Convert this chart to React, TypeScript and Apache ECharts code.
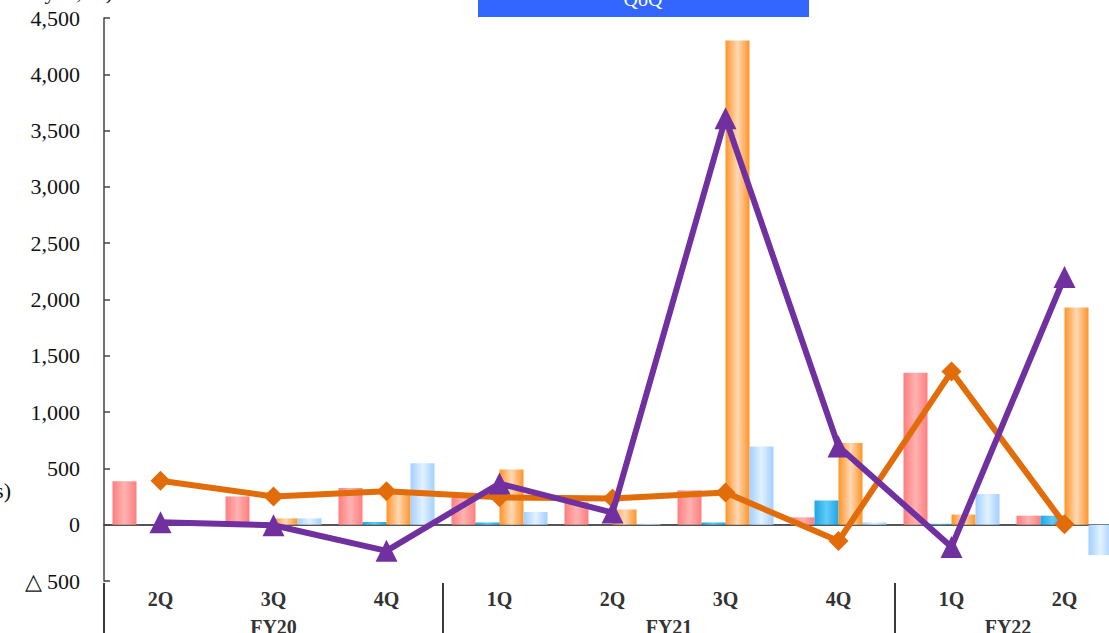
import React, { useEffect, useRef } from "react";
import * as echarts from "echarts";

// Quarters on the category axis, grouped by fiscal year
const quarters = ["2Q", "3Q", "4Q", "1Q", "2Q", "3Q", "4Q", "1Q", "2Q"];
const fiscalYears = ["FY20", "FY21", "FY22"];
const quartersPerYear = [3, 4, 2];

// Bar series
const redBars = [385, 251, 326, 251, 200, 305, 65, 1350, 80];
const cyanBars = [0, 0, 24, 20, 0, 20, 215, 8, 80];
const orangeBars = [0, 56, 285, 490, 135, 4300, 725, 90, 1930];
const paleBlueBars = [0, 56, 545, 113, 8, 695, 20, 272, -270];

// Line series
const orangeLine = [390, 251, 298, 243, 232, 285, -145, 1360, 5];
const purpleLine = [22, -5, -232, 365, 108, 3610, 695, -198, 2200];

// Value axis range
const yMin = -500;
const yMax = 4500;
const yStep = 500;

const SERIF = '"Times New Roman", "Liberation Serif", serif';

// The plot runs a little past the right edge of the visible frame
const VIEW_W = 1109;
const VIEW_H = 633;
const CHART_W = 1121;

const hGradient = (edge: string, mid: string) =>
  new echarts.graphic.LinearGradient(0, 0, 1, 0, [
    { offset: 0, color: edge },
    { offset: 0.5, color: mid },
    { offset: 1, color: edge },
  ]);

const formatY = (v: number) => {
  const s = Math.abs(v).toLocaleString("en-US");
  return v < 0 ? "\u25B3 " + s : s;
};

// Half-step positions for the fiscal-year row: labels at the middle of each
// year, separators at the year boundaries
const halfSteps: string[] = [];
const boundaryIdx: number[] = [];
(() => {
  const total = quartersPerYear.reduce((a, b) => a + b, 0) * 2 + 1;
  for (let i = 0; i < total; i++) halfSteps.push("");
  let start = 0;
  boundaryIdx.push(0);
  fiscalYears.forEach((fy, k) => {
    const span = quartersPerYear[k];
    halfSteps[start * 2 + span] = fy;
    start += span;
    boundaryIdx.push(start * 2);
  });
})();

export default function App() {
  const ref = useRef<HTMLDivElement>(null);

  useEffect(() => {
    if (!ref.current) return;
    const chart = echarts.init(ref.current, null, {
      renderer: "svg",
      width: CHART_W,
      height: VIEW_H,
    });

    const barBase = {
      type: "bar" as const,
      xAxisIndex: 0,
      yAxisIndex: 0,
      barWidth: 24,
      barGap: "0%",
    };

    chart.setOption({
      animation: false,
      grid: {
        left: 104,
        right: 0,
        top: 18,
        bottom: 52,
        containLabel: false,
        outerBoundsMode: "none",
      },
      xAxis: [
        {
          type: "category",
          data: quarters,
          position: "bottom",
          axisLine: { show: true, onZero: true, lineStyle: { color: "#555", width: 2 } },
          axisTick: { show: false },
          axisLabel: { show: false },
        },
        {
          type: "category",
          data: quarters,
          position: "bottom",
          axisLine: { show: false, onZero: false },
          axisTick: { show: false },
          axisLabel: {
            show: true,
            interval: 0,
            margin: 8,
            fontFamily: SERIF,
            fontSize: 20,
            fontWeight: "bold",
            color: "#333",
          },
        },
        {
          type: "category",
          data: halfSteps,
          boundaryGap: false,
          position: "bottom",
          offset: 2,
          axisLine: { show: false, onZero: false },
          axisTick: {
            show: true,
            length: 52,
            interval: (i: number) => boundaryIdx.includes(i),
            lineStyle: { color: "#3a3a3a", width: 2 },
          },
          axisLabel: {
            show: true,
            interval: 0,
            margin: 34,
            fontFamily: SERIF,
            fontSize: 20,
            fontWeight: "bold",
            color: "#333",
          },
        },
      ],
      yAxis: {
        type: "value",
        min: yMin,
        max: yMax,
        interval: yStep,
        axisLine: { show: true, onZero: false, lineStyle: { color: "#444", width: 1.5 } },
        axisTick: { show: true, inside: true, length: 6, lineStyle: { color: "#444", width: 1.5 } },
        splitLine: { show: false },
        axisLabel: {
          margin: 24,
          fontFamily: SERIF,
          fontSize: 22,
          color: "#111",
          formatter: formatY,
        },
      },
      series: [
        { ...barBase, data: redBars, itemStyle: { color: hGradient("#FF7E7E", "#FFB2B2") } },
        { ...barBase, data: cyanBars, itemStyle: { color: hGradient("#1EA6E8", "#5FCBF6") } },
        { ...barBase, data: orangeBars, itemStyle: { color: hGradient("#FF9326", "#FFD9B5") } },
        { ...barBase, data: paleBlueBars, itemStyle: { color: hGradient("#A2D0FF", "#E2F1FF") } },
        {
          type: "line",
          data: orangeLine,
          symbol: "diamond",
          symbolSize: 20,
          lineStyle: { color: "#E36C0A", width: 6 },
          itemStyle: { color: "#E36C0A" },
          z: 4,
        },
        {
          type: "line",
          data: purpleLine,
          symbol: "triangle",
          symbolSize: 22,
          lineStyle: { color: "#7030A0", width: 6 },
          itemStyle: { color: "#7030A0" },
          z: 5,
        },
      ],
      graphic: [
        {
          type: "rect",
          shape: { x: 478, y: -10, width: 331, height: 27 },
          style: { fill: "#3366FF" },
          z: 10,
        },
        {
          type: "text",
          x: 643,
          y: -1,
          style: {
            text: "QoQ",
            fill: "#fff",
            font: `20px ${SERIF}`,
            textAlign: "center",
            textVerticalAlign: "middle",
          },
          z: 11,
        },
        {
          type: "text",
          x: 113,
          y: 2,
          style: {
            text: "(Unit: million yen, %)",
            fill: "#111",
            font: `22px ${SERIF}`,
            textAlign: "right",
            textVerticalAlign: "bottom",
          },
          z: 10,
        },
        {
          type: "text",
          x: 11,
          y: 490,
          style: {
            text: "(Millions)",
            fill: "#111",
            font: `22px ${SERIF}`,
            textAlign: "right",
            textVerticalAlign: "middle",
          },
          z: 10,
        },
      ],
    });

    return () => chart.dispose();
  }, []);

  return (
    <div
      style={{
        position: "absolute",
        left: 0,
        top: 0,
        width: VIEW_W,
        height: VIEW_H,
        overflow: "hidden",
        background: "#fff",
      }}
    >
      <div ref={ref} style={{ width: CHART_W, height: VIEW_H }} />
    </div>
  );
}
